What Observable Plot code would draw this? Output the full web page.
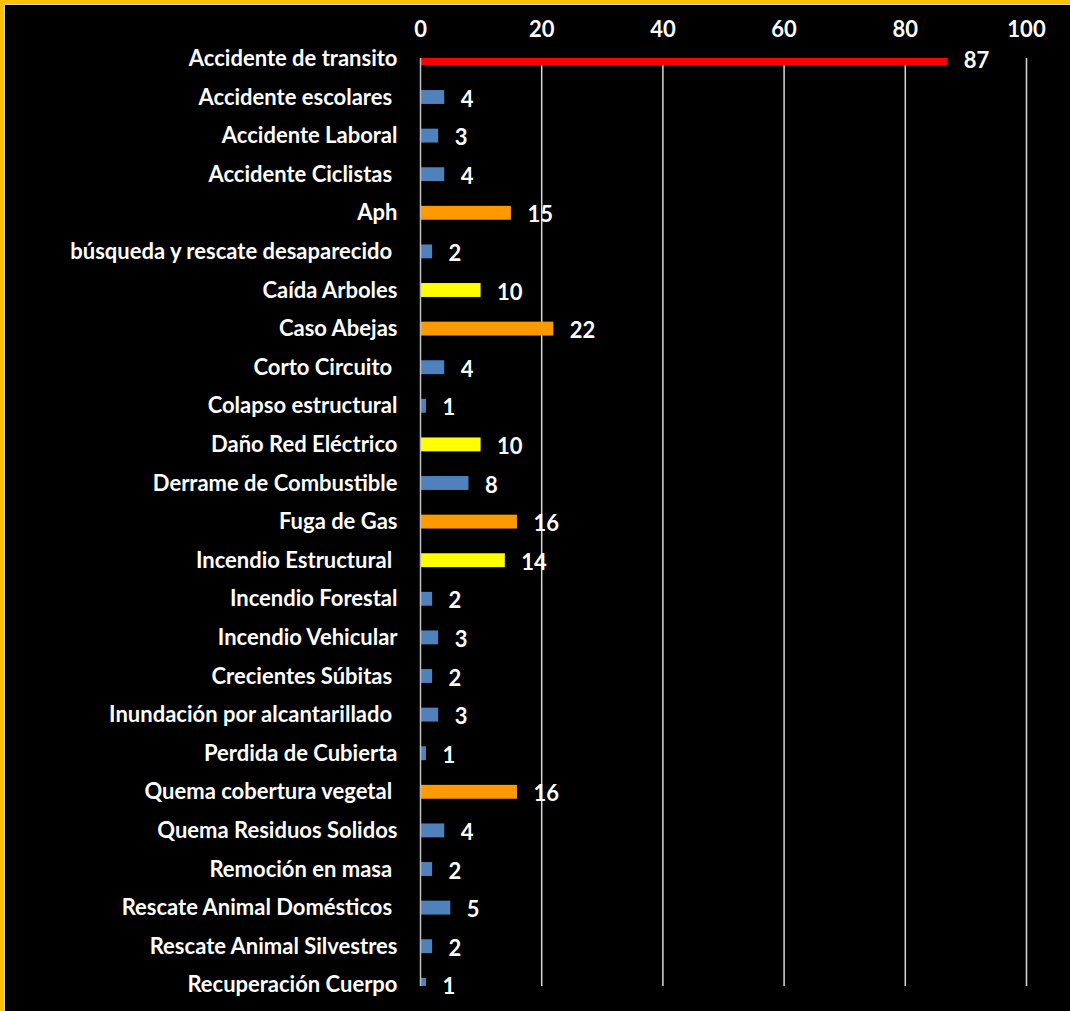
<!DOCTYPE html>
<html>
<head>
<meta charset="utf-8">
<script src="https://cdn.jsdelivr.net/npm/d3@7"></script>
<script src="https://cdn.jsdelivr.net/npm/@observablehq/plot@0.6"></script>
<style>
  html, body { margin: 0; padding: 0; background: #000; }
  #frame { width: 1066px; height: 1007px; background: #000; border-top: 4px solid #FFC000; border-left: 4px solid #FFC000; overflow: hidden; }
  #inner { width: 1065px; height: 1006px; border-top: 1px solid #d0d0d0; border-left: 1px solid #d0d0d0; }
  #inner svg { display: block; }
  #inner svg text { white-space: pre; }
</style>
</head>
<body>
<div id="frame"><div id="inner"></div></div>
<script>
const categories = [
  "Accidente de transito",
  "Accidente escolares ",
  "Accidente Laboral",
  "Accidente Ciclistas ",
  "Aph",
  "búsqueda y rescate desaparecido ",
  "Caída Arboles",
  "Caso Abejas",
  "Corto Circuito ",
  "Colapso estructural",
  "Daño Red Eléctrico",
  "Derrame de Combustible",
  "Fuga de Gas",
  "Incendio Estructural ",
  "Incendio Forestal",
  "Incendio Vehicular",
  "Crecientes Súbitas ",
  "Inundación por alcantarillado ",
  "Perdida de Cubierta",
  "Quema cobertura vegetal ",
  "Quema Residuos Solidos",
  "Remoción en masa ",
  "Rescate Animal Domésticos ",
  "Rescate Animal Silvestres",
  "Recuperación Cuerpo"
];
const values = [87, 4, 3, 4, 15, 2, 10, 22, 4, 1, 10, 8, 16, 14, 2, 3, 2, 3, 1, 16, 4, 2, 5, 2, 1];
const levels = ["crítico", "bajo", "bajo", "bajo", "alto", "bajo", "medio", "alto", "bajo", "bajo",
  "medio", "bajo", "alto", "medio", "bajo", "bajo", "bajo", "bajo", "bajo", "alto",
  "bajo", "bajo", "bajo", "bajo", "bajo"];
const xTicks = [0, 20, 40, 60, 80, 100];

const levelNames = ["crítico", "alto", "medio", "bajo"];
const levelColors = ["#FF0000", "#FF9900", "#FFFF00", "#4F81BD"];

const data = categories.map((c, i) => ({ category: c, value: values[i], level: levels[i] }));

const font = "Lato, 'Noto Sans', sans-serif";

const chart = Plot.plot({
  width: 1065,
  height: 1006,
  marginLeft: 415,
  marginRight: 44,
  marginTop: 53,
  marginBottom: 25,
  style: { background: "#000", color: "#fff", fontFamily: font, fontWeight: "bold", fontSize: "22px" },
  x: { domain: [0, 100], ticks: xTicks, axis: null },
  y: { domain: categories, range: [34.1, 999.1], paddingInner: 0.64, paddingOuter: 0.32, round: false, axis: null },
  color: { domain: levelNames, range: levelColors },
  marks: [
    Plot.ruleX(xTicks.filter(d => d > 0), { stroke: "#d9d9d9", strokeWidth: 1.5 }),
    Plot.barX(data, { x: "value", y: "category", fill: "level", clip: true }),
    Plot.ruleX([0], { stroke: "#bfbfbf", strokeWidth: 1.5 }),
    Plot.axisX({ anchor: "top", ticks: xTicks, tickSize: 0, tickPadding: 22, tickFormat: d => String(d), fontSize: 22, fontWeight: "bold", fill: "#fff", label: null }),
    Plot.axisY({ anchor: "left", tickSize: 0, tickPadding: 23, fontSize: 22, fontWeight: "bold", fill: "#fff", label: null }),
    Plot.text(data, { x: "value", y: "category", text: d => String(d.value), textAnchor: "start", dx: 16, dy: 2, fill: "#fff", fontSize: 22, fontWeight: "bold" })
  ]
});
document.getElementById("inner").appendChild(chart);
</script>
</body>
</html>
